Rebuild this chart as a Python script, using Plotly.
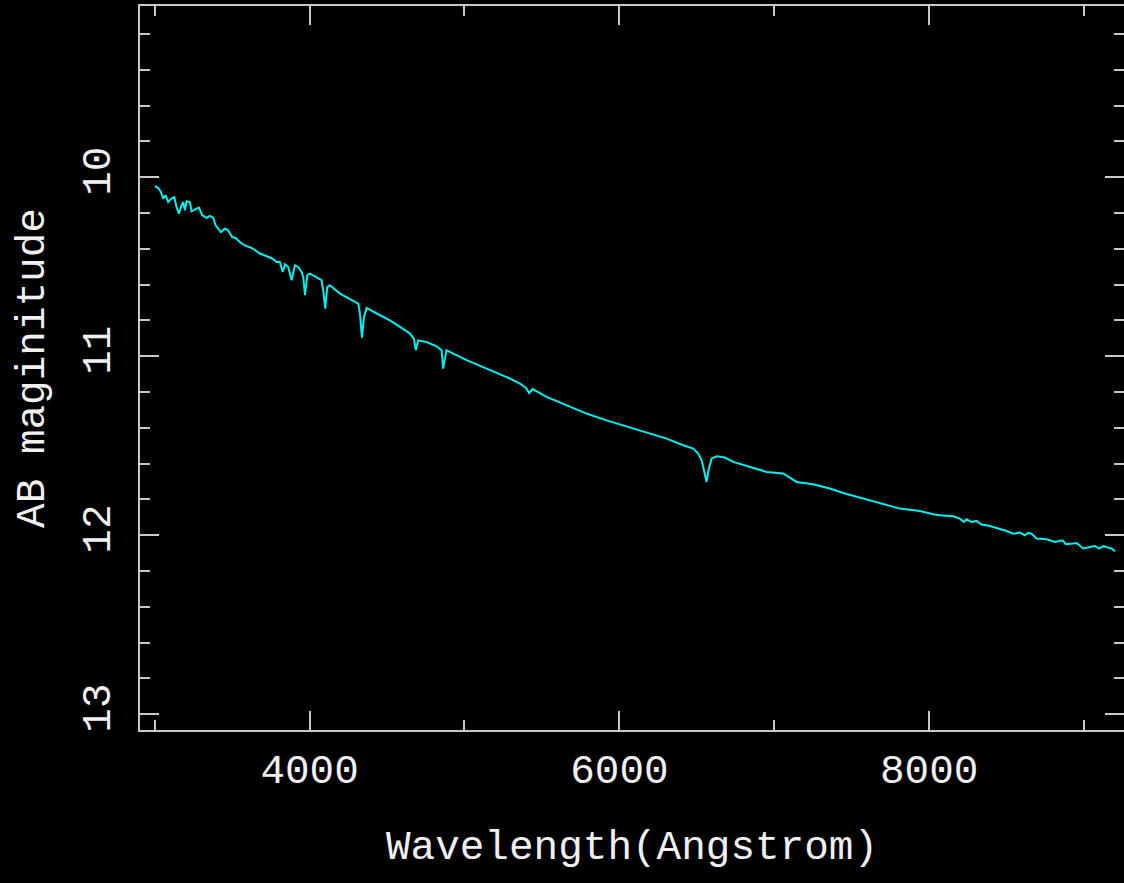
import plotly.graph_objects as go

# Spectrum: wavelength (Angstrom) and AB magnitude
wavelength = [
    3001, 3023, 3040, 3055, 3070, 3087, 3109, 3126, 3141, 3156,
    3169, 3184, 3195, 3206, 3227, 3238, 3270, 3285, 3307, 3335,
    3356, 3378, 3393, 3427, 3453, 3474, 3500, 3522, 3561, 3593,
    3626, 3679, 3720, 3760, 3787, 3808, 3826, 3841, 3862, 3884,
    3905, 3926, 3948, 3959, 3970, 3985, 4002, 4045, 4077, 4088,
    4101, 4114, 4131, 4196, 4260, 4314, 4325, 4338, 4351, 4368,
    4433, 4518, 4583, 4648, 4673, 4686, 4701, 4755, 4820, 4852,
    4862, 4884, 4927, 4970, 5014, 5143, 5272, 5358, 5396, 5418,
    5440, 5530, 5659, 5788, 5917, 6047, 6176, 6305, 6412, 6477,
    6509, 6531, 6546, 6563, 6578, 6595, 6628, 6681, 6735, 6843,
    6950, 7058, 7144, 7251, 7359, 7445, 7553, 7682, 7811, 7940,
    8026, 8069, 8155, 8198, 8224, 8242, 8274, 8306, 8338, 8392,
    8457, 8500, 8543, 8586, 8618, 8639, 8661, 8693, 8758, 8812,
    8861, 8883, 8930, 8952, 8995, 9038, 9070, 9098, 9124, 9156,
    9178, 9199,
]
ab_mag = [
    10.049, 10.060, 10.082, 10.119, 10.101, 10.138, 10.119, 10.110, 10.166, 10.203,
    10.166, 10.138, 10.184, 10.134, 10.138, 10.190, 10.175, 10.169, 10.212, 10.227,
    10.216, 10.227, 10.268, 10.306, 10.287, 10.296, 10.334, 10.339, 10.370, 10.385,
    10.395, 10.426, 10.440, 10.455, 10.473, 10.473, 10.529, 10.486, 10.501, 10.575,
    10.492, 10.501, 10.529, 10.557, 10.659, 10.547, 10.538, 10.557, 10.575, 10.631,
    10.734, 10.613, 10.603, 10.650, 10.678, 10.706, 10.761, 10.896, 10.780, 10.730,
    10.761, 10.799, 10.836, 10.873, 10.901, 10.966, 10.911, 10.920, 10.944, 10.966,
    11.069, 10.966, 10.985, 11.004, 11.022, 11.069, 11.116, 11.153, 11.175, 11.205,
    11.183, 11.227, 11.274, 11.320, 11.358, 11.391, 11.428, 11.460, 11.497, 11.516,
    11.544, 11.581, 11.637, 11.702, 11.627, 11.572, 11.559, 11.566, 11.590, 11.618,
    11.646, 11.655, 11.702, 11.715, 11.739, 11.764, 11.789, 11.820, 11.851, 11.864,
    11.883, 11.888, 11.894, 11.907, 11.926, 11.911, 11.926, 11.920, 11.940, 11.948,
    11.963, 11.976, 11.991, 11.985, 12.000, 11.987, 11.991, 12.018, 12.022, 12.037,
    12.028, 12.050, 12.046, 12.043, 12.074, 12.065, 12.060, 12.074, 12.061, 12.069,
    12.074, 12.089,
]

x_major = [4000, 6000, 8000]
x_minor = [3000, 5000, 7000, 9000]
y_major = [10, 11, 12, 13]
y_minor = [9.2, 9.4, 9.6, 9.8, 10.2, 10.4, 10.6, 10.8, 11.2, 11.4, 11.6, 11.8,
           12.2, 12.4, 12.6, 12.8]

x_range = [2905, 9258]
y_range = [13.088, 9.043]

AXIS = "#c8c8c8"
TEXT = "#f0f0f0"
FONT = "Liberation Mono"

fig = go.Figure()
fig.add_trace(go.Scatter(
    x=wavelength, y=ab_mag, mode="lines",
    line=dict(color="#00f0f0", width=2),
    hoverinfo="skip",
))
# empty trace so the right-hand tick axis gets drawn
fig.add_trace(go.Scatter(x=[], y=[], yaxis="y2", mode="lines",
                         hoverinfo="skip"))

minor_x = dict(tickvals=x_minor, ticks="inside", ticklen=10, tickwidth=2,
               tickcolor=AXIS, showgrid=False)
minor_y = dict(tickvals=y_minor, ticks="inside", ticklen=10, tickwidth=2,
               tickcolor=AXIS, showgrid=False)

fig.update_layout(
    width=1124, height=883,
    margin=dict(l=140, r=0, t=6, b=153),
    paper_bgcolor="black", plot_bgcolor="black",
    showlegend=False,
    font=dict(family=FONT, size=41, color=TEXT),
    xaxis=dict(
        range=x_range, showline=True, linecolor=AXIS, linewidth=2,
        mirror="ticks", ticks="inside", ticklen=19, tickwidth=2, tickcolor=AXIS,
        tickvals=x_major, ticktext=[str(v) for v in x_major],
        minor=minor_x, showgrid=False, zeroline=False,
        ticklabelstandoff=2,
        title=dict(text="Wavelength(Angstrom)", standoff=36,
                   font=dict(family=FONT, size=41, color=TEXT)),
    ),
    yaxis=dict(
        range=y_range, showline=True, linecolor=AXIS, linewidth=2,
        mirror=False, ticks="inside", ticklen=19, tickwidth=2, tickcolor=AXIS,
        tickvals=y_major, ticktext=[str(v) for v in y_major], tickangle=-90,
        minor=minor_y, showgrid=False, zeroline=False,
        ticklabelstandoff=12,
        title=dict(text="AB maginitude", standoff=18,
                   font=dict(family=FONT, size=41, color=TEXT)),
    ),
    yaxis2=dict(
        range=y_range, overlaying="y", side="right", anchor="x",
        showline=False, ticks="inside", ticklen=19, tickwidth=2, tickcolor=AXIS,
        tickvals=y_major, showticklabels=False,
        minor=minor_y, showgrid=False, zeroline=False,
    ),
)

fig.write_html("out.html")
